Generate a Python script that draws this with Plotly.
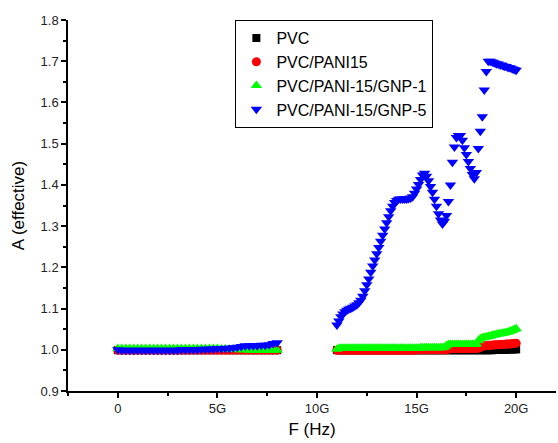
import plotly.graph_objects as go

# Frequencies (GHz; scaled to Hz when plotted)
freq_low_ghz = [0.0, 0.2, 0.4, 0.6, 0.8, 1.0, 1.2, 1.4, 1.6, 1.8, 2.0, 2.2, 2.4, 2.6, 2.8,
                3.0, 3.2, 3.4, 3.6, 3.8, 4.0, 4.2, 4.4, 4.6, 4.8, 5.0, 5.2, 5.4, 5.6, 5.8,
                6.0, 6.2, 6.4, 6.6, 6.8, 7.0, 7.2, 7.4, 7.6, 7.8, 8.0]
freq_high_ghz = [11.0, 11.1, 11.2, 11.3, 11.4, 11.5, 11.6, 11.7, 11.8, 11.9,
                 12.0, 12.1, 12.2, 12.3, 12.4, 12.5, 12.6, 12.7, 12.8, 12.9,
                 13.0, 13.1, 13.2, 13.3, 13.4, 13.5, 13.6, 13.7, 13.8, 13.9,
                 14.0, 14.1, 14.2, 14.3, 14.4, 14.5, 14.6, 14.7, 14.8, 14.9,
                 15.0, 15.1, 15.2, 15.3, 15.4, 15.5, 15.6, 15.7, 15.8, 15.9,
                 16.0, 16.1, 16.2, 16.3, 16.4, 16.5, 16.6, 16.7, 16.8, 16.9,
                 17.0, 17.1, 17.2, 17.3, 17.4, 17.5, 17.6, 17.7, 17.8, 17.9,
                 18.0, 18.1, 18.2, 18.3, 18.4, 18.5, 18.6, 18.7, 18.8, 18.9,
                 19.0, 19.1, 19.2, 19.3, 19.4, 19.5, 19.6, 19.7, 19.8, 19.9, 20.0]

# PVC
pvc_low = [0.999] * 41
pvc_high = [0.999, 0.999, 0.999, 0.999, 0.999, 0.999, 0.999, 0.999, 0.999, 0.999,
            0.999, 0.999, 0.999, 0.999, 0.999, 0.999, 0.999, 0.999, 0.999, 0.999,
            0.999, 0.999, 0.999, 0.999, 0.999, 0.999, 0.999, 0.999, 0.999, 0.999,
            0.999, 0.999, 0.999, 0.999, 0.999, 0.999, 0.999, 0.999, 0.999, 0.999,
            0.999, 0.999, 0.999, 0.999, 0.999, 0.999, 0.999, 0.999, 0.999, 0.999,
            0.999, 0.999, 0.999, 0.999, 0.999, 0.999, 0.999, 0.999, 0.999, 0.999,
            0.999, 0.999, 0.999, 0.999, 0.999, 0.999, 0.999, 0.999, 0.999, 0.999,
            0.999, 0.999, 0.999, 0.999, 0.999, 0.999, 0.999, 0.999, 0.999, 1.000,
            1.000, 1.000, 1.000, 1.000, 1.000, 1.000, 1.001, 1.001, 1.001, 1.001, 1.001]

# PVC/PANI15
pani_low = [0.999] * 41
pani_high = [0.999, 0.999, 0.999, 0.999, 0.999, 0.999, 0.999, 0.999, 0.999, 0.999,
             0.999, 0.999, 0.999, 0.999, 0.999, 0.999, 0.999, 0.999, 0.999, 0.999,
             0.999, 0.999, 0.999, 0.999, 0.999, 0.999, 0.999, 0.999, 0.999, 0.999,
             0.999, 0.999, 0.999, 0.999, 0.999, 0.999, 0.999, 0.999, 0.999, 0.999,
             1.000, 1.000, 1.000, 1.000, 1.000, 1.000, 1.000, 1.000, 1.000, 1.000,
             1.000, 1.000, 1.000, 1.000, 1.000, 1.000, 1.002, 1.003, 1.003, 1.003,
             1.003, 1.003, 1.003, 1.003, 1.003, 1.003, 1.003, 1.003, 1.003, 1.003,
             1.003, 1.004, 1.006, 1.008, 1.010, 1.010, 1.011, 1.011, 1.011, 1.012,
             1.012, 1.012, 1.013, 1.013, 1.013, 1.014, 1.014, 1.014, 1.015, 1.015, 1.016]

# PVC/PANI-15/GNP-1
gnp1_low = [1.003, 1.003, 1.003, 1.003, 1.003, 1.003, 1.003, 1.003, 1.003, 1.003,
            1.003, 1.003, 1.003, 1.003, 1.003, 1.003, 1.003, 1.003, 1.003, 1.003,
            1.003, 1.003, 1.003, 1.003, 1.003, 1.003, 1.002, 1.002, 1.001, 1.001,
            1.000, 1.000, 1.000, 0.999, 0.999, 0.999, 0.999, 0.999, 0.999, 0.999, 0.999]
gnp1_high = [1.001, 1.003, 1.004, 1.004, 1.004, 1.004, 1.004, 1.004, 1.004, 1.004,
             1.004, 1.004, 1.004, 1.004, 1.004, 1.004, 1.004, 1.004, 1.004, 1.004,
             1.004, 1.004, 1.004, 1.004, 1.004, 1.004, 1.004, 1.004, 1.004, 1.004,
             1.004, 1.004, 1.004, 1.004, 1.004, 1.004, 1.004, 1.004, 1.004, 1.004,
             1.004, 1.004, 1.005, 1.005, 1.005, 1.005, 1.005, 1.005, 1.005, 1.005,
             1.005, 1.005, 1.005, 1.005, 1.006, 1.010, 1.013, 1.013, 1.013, 1.013,
             1.013, 1.013, 1.013, 1.013, 1.013, 1.013, 1.013, 1.013, 1.013, 1.013,
             1.014, 1.022, 1.027, 1.029, 1.030, 1.031, 1.032, 1.033, 1.035, 1.036,
             1.037, 1.038, 1.039, 1.040, 1.041, 1.042, 1.043, 1.045, 1.047, 1.049, 1.051]

# PVC/PANI-15/GNP-5
gnp5_low = [1.000, 0.999, 0.999, 0.999, 0.999, 0.999, 0.999, 0.999, 0.999, 0.999,
            0.999, 0.999, 0.999, 0.999, 0.999, 0.999, 1.000, 1.000, 1.000, 1.000,
            1.000, 1.001, 1.001, 1.002, 1.002, 1.003, 1.003, 1.004, 1.004, 1.005,
            1.006, 1.008, 1.010, 1.010, 1.010, 1.010, 1.011, 1.011, 1.012, 1.015, 1.017]
gnp5_high = [1.060, 1.070, 1.080, 1.087, 1.092, 1.096, 1.099, 1.101, 1.103, 1.106,
             1.109, 1.114, 1.120, 1.130, 1.143, 1.158, 1.172, 1.188, 1.203, 1.218,
             1.233, 1.248, 1.263, 1.278, 1.293, 1.308, 1.323, 1.337, 1.348, 1.357,
             1.362, 1.365, 1.366, 1.366, 1.366, 1.366, 1.367, 1.368, 1.371, 1.380,
             1.390, 1.401, 1.413, 1.424, 1.428, 1.421, 1.410, 1.396, 1.382, 1.365,
             1.348, 1.330, 1.315, 1.305, 1.312, 1.326, 1.360, 1.400, 1.455, 1.492,
             1.515, 1.520, 1.520, 1.508, 1.490, 1.474, 1.457, 1.440, 1.425, 1.415,
             1.430, 1.488, 1.530, 1.565, 1.630, 1.675, 1.700, 1.700, 1.698, 1.696,
             1.694, 1.693, 1.691, 1.690, 1.688, 1.687, 1.685, 1.684, 1.682, 1.680, 1.678]

series = [
    ("PVC", pvc_low, pvc_high, "#000000", "square", 8),
    ("PVC/PANI15", pani_low, pani_high, "#ff0000", "circle", 9),
    ("PVC/PANI-15/GNP-1", gnp1_low, gnp1_high, "#00ff00", "triangle-up", 10),
    ("PVC/PANI-15/GNP-5", gnp5_low, gnp5_high, "#0000ff", "triangle-down", 10),
]

fig = go.Figure()
for name, lo, hi, color, sym, size in series:
    xs = [f * 1e9 for f in freq_low_ghz] + [None] + [f * 1e9 for f in freq_high_ghz]
    ys = lo + [None] + hi
    fig.add_trace(go.Scatter(
        x=xs, y=ys, mode="markers", name=name,
        marker=dict(symbol=sym, color=color, size=size, line=dict(width=0)),
    ))

font_family = "Liberation Sans, Arial, sans-serif"
fig.update_layout(
    width=558, height=443,
    margin=dict(l=68, r=2, t=20, b=52),
    plot_bgcolor="white", paper_bgcolor="white",
    font=dict(family=font_family, color="#000000", size=13),
    showlegend=True,
    legend=dict(
        x=0.343, y=1.0, xanchor="left", yanchor="top",
        bgcolor="white", bordercolor="#000000", borderwidth=1,
        font=dict(size=16, family=font_family),
        itemsizing="trace", tracegroupgap=0,
    ),
    xaxis=dict(
        range=[-2.5e9, 22e9], tick0=0, dtick=5e9, tickformat="~s",
        showgrid=False, zeroline=False, showline=True, linecolor="#000000", linewidth=1.5,
        ticks="outside", ticklen=5, tickwidth=1.5, tickcolor="#000000",
        tickfont=dict(size=13, color="#222222"),
        minor=dict(tick0=0, dtick=2.5e9, ticks="outside", ticklen=3, tickwidth=1.5, tickcolor="#000000"),
        title=dict(text="F (Hz)", font=dict(size=17), standoff=8),
    ),
    yaxis=dict(
        range=[0.9, 1.8], tick0=0.9, dtick=0.1, tickformat=".1f",
        showgrid=False, zeroline=False, showline=True, linecolor="#000000", linewidth=1.5,
        ticks="outside", ticklen=5, tickwidth=1.5, tickcolor="#000000",
        tickfont=dict(size=13, color="#222222"),
        minor=dict(tick0=0.9, dtick=0.05, ticks="outside", ticklen=3, tickwidth=1.5, tickcolor="#000000"),
        title=dict(text="A (effective)", font=dict(size=17), standoff=12),
    ),
)

fig.write_html("out.html", config={"displayModeBar": False},
               post_script="document.body.style.margin='0px';")
